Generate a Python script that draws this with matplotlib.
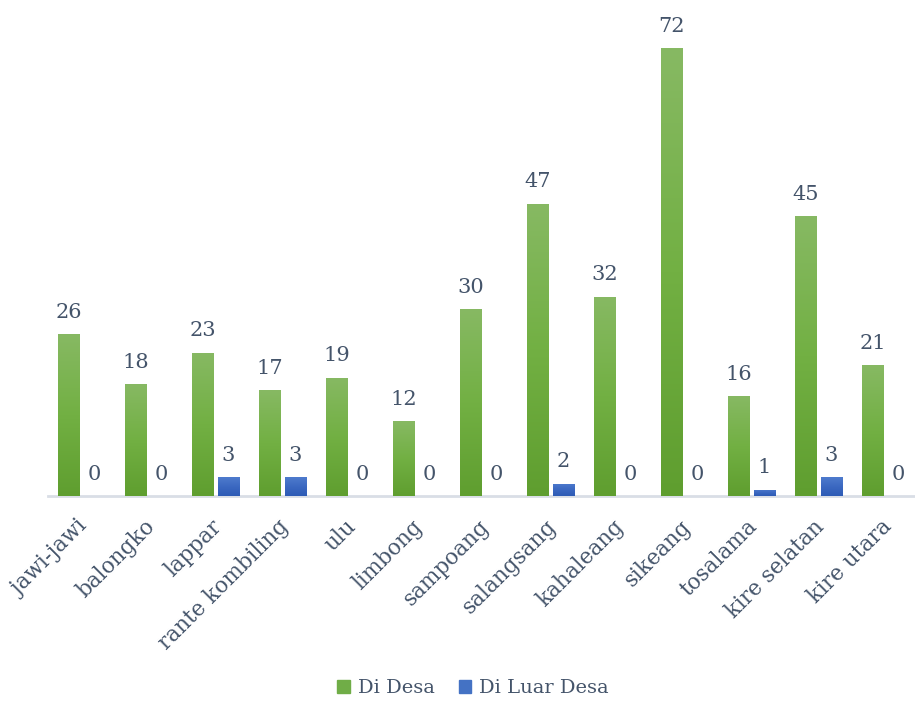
import numpy as np
import matplotlib
matplotlib.use("Agg")
import matplotlib.pyplot as plt
from matplotlib.colors import LinearSegmentedColormap
from matplotlib.transforms import ScaledTranslation

categories = ["jawi-jawi", "balongko", "lappar", "rante kombiling", "ulu", "limbong",
              "sampoang", "salangsang", "kahaleang", "sikeang", "tosalama",
              "kire selatan", "kire utara"]
di_desa = [26, 18, 23, 17, 19, 12, 30, 47, 32, 72, 16, 45, 21]
di_luar_desa = [0, 0, 3, 3, 0, 0, 0, 2, 0, 0, 1, 3, 0]
series_names = ["Di Desa", "Di Luar Desa"]

TEXT = "#44546a"
FONT = "DejaVu Serif"
plt.rcParams["font.family"] = FONT

W, H = 915, 702
fig = plt.figure(figsize=(W / 100, H / 100), dpi=100)
# axes: baseline at y=496 px, 67 px per category starting at x=48
ymax = 76
px_per_unit = 448.0 / 72
ax_h = ymax * px_per_unit
ax = fig.add_axes([48 / W, (H - 496) / H, 13 * 67 / W, ax_h / H])

x = np.arange(len(categories))
bw = 0.32
off = 0.19

green_cmap = LinearSegmentedColormap.from_list("g", ["#5f9e2f", "#72b043", "#87b963"])
blue_cmap = LinearSegmentedColormap.from_list("b", ["#2d5bb5", "#3b68c1", "#4e7bcd"])

b1 = ax.bar(x - off, di_desa, bw, color="#70ad47", label=series_names[0], zorder=2)
b2 = ax.bar(x + off, di_luar_desa, bw, color="#4472c4", label=series_names[1], zorder=2)

# vertical gradient fill inside each bar
grad = np.linspace(0, 1, 256).reshape(-1, 1)
for bars, cmap in ((b1, green_cmap), (b2, blue_cmap)):
    for p in bars:
        h = p.get_height()
        if h <= 0:
            continue
        x0 = p.get_x()
        im = ax.imshow(grad, extent=[x0, x0 + p.get_width(), 0, h], origin="lower",
                       aspect="auto", cmap=cmap, zorder=3, interpolation="bilinear")
        im.set_clip_path(p)
        p.set_facecolor("none")

for xi, v in zip(x, di_desa):
    ax.annotate(str(v), (xi - off, v), xytext=(0, 9), textcoords="offset points",
                ha="center", va="bottom", fontsize=15, color=TEXT)
for xi, v in zip(x, di_luar_desa):
    ax.annotate(str(v), (xi + off, v), xytext=(0, 9), textcoords="offset points",
                ha="center", va="bottom", fontsize=15, color=TEXT)

ax.set_xlim(-0.5, len(categories) - 0.5)
ax.set_ylim(0, ymax)
for s in ["top", "right", "left"]:
    ax.spines[s].set_visible(False)
ax.spines["bottom"].set_color("#d9dee6")
ax.spines["bottom"].set_linewidth(2)
ax.set_yticks([])
ax.set_xticks(x)
ax.set_xticklabels(categories, rotation=45, ha="right", rotation_mode="anchor",
                   fontsize=15.5, color=TEXT)
ax.tick_params(axis="x", length=0, pad=14)
shift = ScaledTranslation(-5 / 100, 0, fig.dpi_scale_trans)
for lbl in ax.get_xticklabels():
    lbl.set_transform(lbl.get_transform() + shift)

handles = [plt.Rectangle((0, 0), 1, 1, color="#70ad47"),
           plt.Rectangle((0, 0), 1, 1, color="#4472c4")]
fig.legend(handles, series_names, loc="center", bbox_to_anchor=(473 / W, 1 - 688 / H),
           ncol=2, frameon=False, fontsize=14, labelcolor=TEXT,
           handlelength=0.65, handleheight=0.65, handletextpad=0.4, columnspacing=1.25)

fig.savefig("out.png", dpi=100)
